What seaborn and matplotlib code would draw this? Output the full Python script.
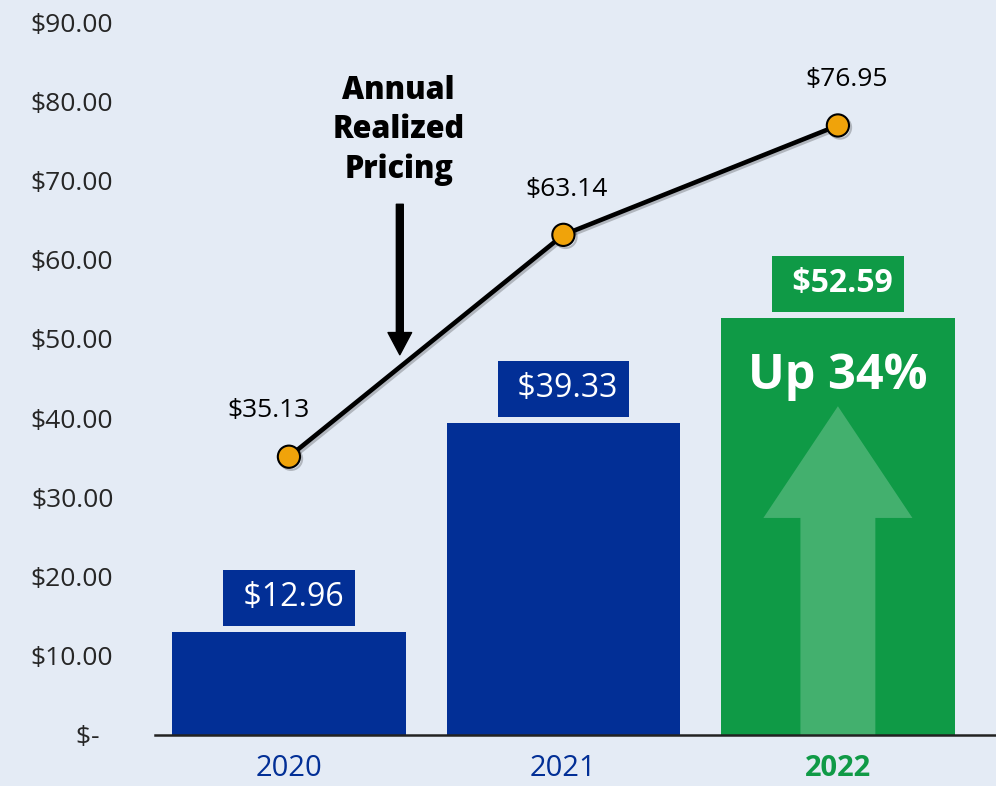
import matplotlib
matplotlib.use("Agg")
import matplotlib.pyplot as plt
import matplotlib.patheffects as pe
from matplotlib.patches import FancyArrow
import seaborn as sns
import pandas as pd
import numpy as np

years = ["2020", "2021", "2022"]
bar_values = [12.96, 39.33, 52.59]
bar_labels = ["$12.96", "$39.33", "$52.59"]
line_values = [35.13, 63.14, 76.95]
line_labels = ["$35.13", "$63.14", "$76.95"]
y_ticks = [0, 10, 20, 30, 40, 50, 60, 70, 80, 90]
y_ticklabels = ["$-  ", "$10.00", "$20.00", "$30.00", "$40.00", "$50.00",
                "$60.00", "$70.00", "$80.00", "$90.00"]

bg = "#e4ebf5"
navy = "#022f96"
green = "#0f9a46"
orange = "#f0a30a"

sns.set_theme(style="white")
plt.rcParams['font.family'] = ['Open Sans', 'DejaVu Sans']

df = pd.DataFrame({"year": years, "value": bar_values})
bar_colors = [navy, navy, green]

fig = plt.figure(figsize=(9.96, 7.86), dpi=100, facecolor=bg)
ax = fig.add_axes([0.1556, 0.0649, 0.8444, 0.907])
ax.set_facecolor(bg)

sns.barplot(data=df, x="year", y="value", hue="year", palette=bar_colors,
            width=0.85, legend=False, ax=ax, saturation=1, linewidth=0)

# translucent up arrow inside 2022 bar
arr = FancyArrow(2, 0, 0, 41.5, width=0.273, head_width=0.543, head_length=14.1,
                 length_includes_head=True, color="white", alpha=0.22, lw=0, zorder=3)
ax.add_patch(arr)
ax.text(2, 45.3, "Up 34%", ha="center", va="center", color="white",
        fontsize=35, fontweight="bold", zorder=4)

# value boxes above bars
for i, (v, lab) in enumerate(zip(bar_values, bar_labels)):
    bold = i == 2
    ax.annotate(" " + lab, xy=(i, v), xytext=(0, 25), textcoords="offset points",
                ha="center", va="center", color="white", fontsize=23,
                fontweight="bold" if bold else "normal",
                bbox=dict(boxstyle="square,pad=0.36", fc=bar_colors[i], ec="none"),
                zorder=5)

# realized pricing line
x_pos = np.arange(len(years))
sns.lineplot(x=x_pos, y=line_values, ax=ax, color="black", lw=3.3, marker="o",
             markersize=16, markerfacecolor=orange, markeredgecolor="black",
             markeredgewidth=1.5, zorder=6,
             path_effects=[pe.SimpleLineShadow(offset=(1.5, -1.5), alpha=0.25), pe.Normal()])
offsets = [(-15, 33), (2, 33), (6, 33)]
for i, (v, lab) in enumerate(zip(line_values, line_labels)):
    ax.annotate(lab, xy=(i, v), xytext=offsets[i], textcoords="offset points",
                ha="center", va="center", fontsize=19, color="black", zorder=7)

ax.text(0.40, 76.3, "Annual\nRealized\nPricing", ha="center", va="center",
        fontsize=22, fontweight="heavy", linespacing=1.3, color="black", zorder=7)
ax.annotate("", xy=(0.404, 48.0), xytext=(0.404, 67.0),
            arrowprops=dict(width=5, headwidth=17, headlength=16, shrink=0,
                            color="black"), zorder=7)

ax.set_xlim(-0.488, 2.576)
ax.set_ylim(0, 90)
ax.set_yticks(y_ticks)
ax.set_yticklabels(y_ticklabels, fontsize=19)
ax.tick_params(axis="y", length=0, pad=30)
ax.tick_params(axis="x", length=0, pad=14)
ax.set_xticks(x_pos)
ax.set_xticklabels(years, fontsize=21)
for i, t in enumerate(ax.get_xticklabels()):
    if i == 2:
        t.set_color(green)
        t.set_fontweight("bold")
    else:
        t.set_color(navy)
ax.set_xlabel("")
ax.set_ylabel("")
sns.despine(ax=ax, left=True, top=True, right=True)
ax.spines["bottom"].set_color("#222222")
ax.spines["bottom"].set_linewidth(1.8)
ax.spines["bottom"].set_zorder(8)

fig.savefig("out.png", dpi=100, facecolor=bg)
